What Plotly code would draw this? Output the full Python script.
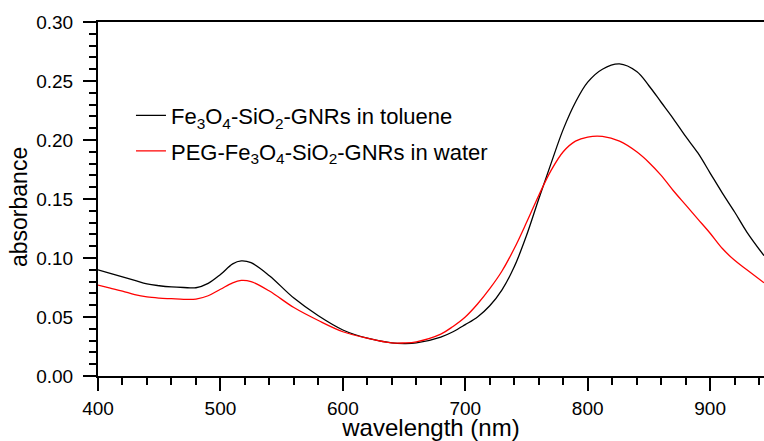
import plotly.graph_objects as go

wavelength = [400, 410, 420, 430, 440, 450, 460, 470, 480, 490, 500, 510, 517, 525, 540, 560, 580,
              600, 620, 640, 650, 660, 680, 690, 700, 710, 720, 730, 740, 750, 760, 770, 780, 790,
              800, 812, 826, 840, 850, 860, 870, 880, 890, 900, 910, 920, 930, 944]

toluene = [0.090, 0.087, 0.084, 0.081, 0.078, 0.0765, 0.0755, 0.075, 0.0748, 0.0785, 0.086, 0.095,
           0.0975, 0.096, 0.085, 0.066, 0.051, 0.039, 0.032, 0.028, 0.0275, 0.028, 0.033, 0.0375,
           0.0435, 0.050, 0.0595, 0.073, 0.0925, 0.119, 0.150, 0.180, 0.209, 0.232,
           0.249, 0.260, 0.2645, 0.258, 0.246, 0.232, 0.218, 0.203, 0.189, 0.172, 0.155, 0.139,
           0.122, 0.102]

water = [0.077, 0.0745, 0.072, 0.069, 0.067, 0.066, 0.0655, 0.065, 0.0652, 0.068, 0.0735, 0.079,
         0.081, 0.080, 0.072, 0.058, 0.047, 0.0375, 0.032, 0.028, 0.028, 0.029, 0.0355, 0.042,
         0.050, 0.061, 0.074, 0.089, 0.108, 0.130, 0.153, 0.174, 0.190, 0.199,
         0.2025, 0.203, 0.199, 0.190, 0.181, 0.170, 0.157, 0.145, 0.133, 0.121, 0.108, 0.098,
         0.090, 0.079]

names = ["Fe<sub>3</sub>O<sub>4</sub>-SiO<sub>2</sub>-GNRs in toluene",
         "PEG-Fe<sub>3</sub>O<sub>4</sub>-SiO<sub>2</sub>-GNRs in water"]

x_ticks = [400, 500, 600, 700, 800, 900]
y_ticks = [0.00, 0.05, 0.10, 0.15, 0.20, 0.25, 0.30]

fig = go.Figure()
fig.add_trace(go.Scatter(x=wavelength, y=toluene, mode="lines", name=names[0], legendgroup="a",
                         line=dict(color="black", width=1.3, shape="spline", smoothing=1.0)))
fig.add_trace(go.Scatter(x=wavelength, y=water, mode="lines", name=names[1], legendgroup="b",
                         line=dict(color="#ff0000", width=1.3, shape="spline", smoothing=1.0)))

font = "Liberation Sans, Arial, sans-serif"
fig.update_layout(
    width=764, height=441,
    margin=dict(l=98, r=0, t=22, b=65),
    paper_bgcolor="white", plot_bgcolor="white",
    font=dict(family=font, size=19, color="black"),
    showlegend=True,
    legend=dict(x=0.0495, y=0.795, xanchor="left", yanchor="top",
                bgcolor="rgba(0,0,0,0)", font=dict(size=22, family=font),
                traceorder="grouped", tracegroupgap=4),
    xaxis=dict(range=[400, 944], tickvals=x_ticks, ticktext=[str(v) for v in x_ticks],
               showline=True, linecolor="black", linewidth=2, mirror=True,
               ticks="outside", ticklen=13, tickwidth=2, tickcolor="black",
               minor=dict(dtick=20, tick0=400, ticks="outside", ticklen=7, tickwidth=2, tickcolor="black",
                          showgrid=False),
               showgrid=False, zeroline=False, automargin=False,
               title=dict(text="wavelength (nm)", font=dict(size=24), standoff=1),
               tickfont=dict(size=19), ticklabelstandoff=1),
    yaxis=dict(range=[0, 0.30], tickvals=y_ticks, ticktext=["%.2f" % v for v in y_ticks],
               showline=True, linecolor="black", linewidth=2, mirror=False,
               ticks="outside", ticklen=13, tickwidth=2, tickcolor="black",
               minor=dict(dtick=0.01, tick0=0, ticks="outside", ticklen=7, tickwidth=2, tickcolor="black",
                          showgrid=False),
               showgrid=False, zeroline=False, automargin=False,
               tickfont=dict(size=19), ticklabelstandoff=6),
    annotations=[dict(text="absorbance", textangle=-90, xref="paper", yref="paper",
                      x=(19 - 98) / 666, y=(376 - 207) / 354, xanchor="center", yanchor="middle",
                      showarrow=False, font=dict(size=23, family=font, color="black"))],
)

fig.write_html("out.html", config={"displayModeBar": False},
               post_script="document.body.style.margin='0px';document.body.style.padding='0px';")
